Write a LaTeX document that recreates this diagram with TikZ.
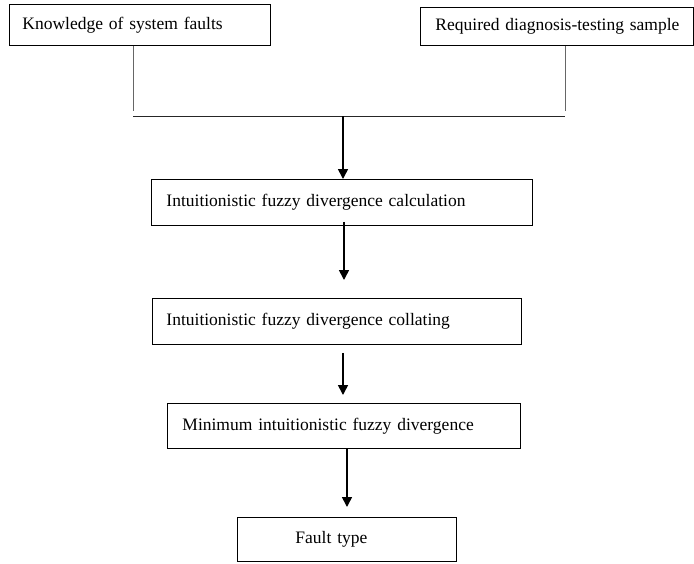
\documentclass[tikz,border=0pt]{standalone}
\usepackage{fontspec}
\setmainfont{Liberation Serif}
\usetikzlibrary{arrows.meta, positioning, calc}

\begin{document}
\begin{tikzpicture}[x=1pt, y=-1pt,
		stagebox/.style={draw, line width=0.9pt, anchor=north west, align=left, inner ysep=0pt,
			font=\fontsize{17.5}{20}\selectfont},
		flow/.style={line width=1.6pt, -{Triangle[width=10pt, length=10pt]}},
		feed/.style={line width=1pt, black!60}]
				\useasboundingbox (0,0) rectangle (694,563);
				\node[stagebox, minimum height=41pt, text width=235pt, inner xsep=13pt] (know) at (9,4) {Knowledge of system faults};
				\node[stagebox, minimum height=38pt, text width=243pt, inner xsep=15pt] (sample) at (420,7) {\mbox{Required diagnosis-testing sample}};
				\node[stagebox, minimum height=46pt, text width=351pt, inner xsep=15pt] (calc) at (151,179) {Intuitionistic fuzzy divergence calculation};
				\node[stagebox, minimum height=46pt, text width=341pt, inner xsep=14pt] (coll) at (152,298) {Intuitionistic fuzzy divergence collating};
				\node[stagebox, minimum height=45pt, text width=323pt, inner xsep=15pt] (mini) at (167,403) {Minimum intuitionistic fuzzy divergence};
				\node[stagebox, minimum height=44pt, text width=103pt, inner xsep=58pt] (fault) at (237,517) {Fault type};
				\coordinate (busl) at (133,116);
				\coordinate (busr) at (565,116);
				\coordinate (busm) at (343,116);
				\coordinate (axis) at (344,0);
				\draw[feed] (know.south -| busl) -- ($(busl)+(0,-5)$);
				\draw[feed] (sample.south -| busr) -- ($(busr)+(0,-5)$);
				\draw[line width=1pt, black!85] (busl) -- (busr);
				\draw[flow] (busm) -- (calc.north -| busm);
				\draw[flow, shorten <=-4pt, shorten >=18pt] (calc.south -| axis) -- (coll.north -| axis);
				\draw[flow, shorten <=8pt, shorten >=8pt] ($(coll.south -| axis)+(-1,0)$) -- ($(mini.north -| axis)+(-1,0)$);
				\draw[flow, shorten >=10pt] ($(mini.south -| axis)+(3,0)$) -- ($(fault.north -| axis)+(3,0)$);
			\end{tikzpicture}
\end{document}
